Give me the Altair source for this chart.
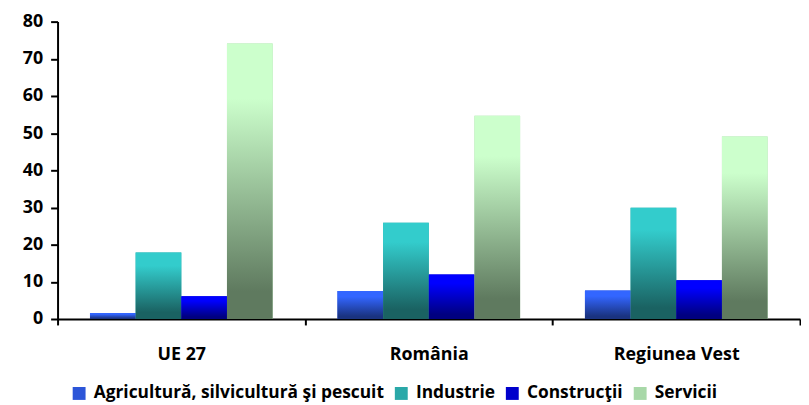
import altair as alt
import pandas as pd

regions = ["UE 27", "România", "Regiunea Vest"]
series = ["Agricultură, silvicultură şi pescuit", "Industrie", "Construcţii", "Servicii"]
agric = [1.6, 7.5, 7.7]
industrie = [17.9, 25.9, 29.9]
constructii = [6.1, 12.0, 10.4]
servicii = [74.1, 54.7, 49.1]

top_colors = ["#3366FF", "#33CCCC", "#0000FF", "#CCFFCC"]
bottom_colors = ["#1A3380", "#1A6262", "#000080", "#5F7A5F"]

rows = []
for i, r in enumerate(regions):
    for s, vals in zip(series, [agric, industrie, constructii, servicii]):
        rows.append({"regiune": r, "sector": s, "valoare": vals[i]})
df = pd.DataFrame(rows)

FONT = "Open Sans"
FS = 18

x_enc = alt.X(
    "regiune:N",
    sort=regions,
    scale=alt.Scale(domain=regions, paddingInner=0, paddingOuter=0),
    axis=alt.Axis(
        title=None, labelAngle=0, tickBand="extent", tickSize=6, tickWidth=2,
        tickColor="black", domainColor="black", domainWidth=2,
        labelFont=FONT, labelFontSize=FS, labelFontWeight="bold", labelColor="black",
        labelPadding=21,
    ),
)
y_enc = alt.Y(
    "valoare:Q",
    scale=alt.Scale(domain=[0, 80], nice=False),
    axis=alt.Axis(
        title=None, values=list(range(0, 81, 10)), grid=False, tickSize=7, tickWidth=2,
        tickColor="black", domainColor="black", domainWidth=2,
        labelFont=FONT, labelFontSize=FS, labelFontWeight="bold", labelColor="black",
        labelPadding=8,
    ),
)
xo_enc = alt.XOffset("sector:N", sort=series, scale=alt.Scale(domain=series, paddingInner=0, paddingOuter=0.71))

base = alt.Chart(df).mark_bar().encode(
    x=x_enc, y=y_enc, xOffset=xo_enc,
    color=alt.Color(
        "sector:N", sort=series,
        scale=alt.Scale(domain=series, range=["#2C55D8", "#2AA8A8", "#0000CC", "#A8D8A8"]),
        legend=alt.Legend(
            title=None, orient="none", legendX=13, legendY=366, direction="horizontal",
            symbolType="square", symbolSize=169, symbolStrokeWidth=0, labelFont=FONT,
            labelFontSize=17.5, labelFontWeight="bold", labelColor="black",
            columnPadding=8, labelOffset=6, labelLimit=400, padding=0,
        ),
    ),
)

layers = [base]
for s, tc, bc in zip(series, top_colors, bottom_colors):
    grad = alt.Gradient(
        gradient="linear", x1=0, x2=0, y1=0, y2=1,
        stops=[
            alt.GradientStop(color=tc, offset=0),
            alt.GradientStop(color=tc, offset=0.2),
            alt.GradientStop(color=bc, offset=0.9),
            alt.GradientStop(color=bc, offset=1),
        ],
    )
    layers.append(
        alt.Chart(df).transform_filter(alt.datum.sector == s).mark_bar(color=grad).encode(
            x=x_enc, y=y_enc, xOffset=xo_enc
        )
    )

chart = alt.layer(*layers).properties(
    width=749, height=300,
    padding={"top": 3, "left": 14, "right": 0, "bottom": 0},
).configure_view(stroke=None)

chart.save("out.html", embed_options={"renderer": "svg", "actions": False})
